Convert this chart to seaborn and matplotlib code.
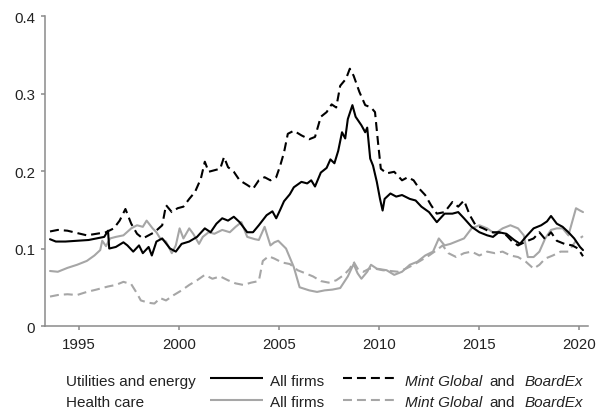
import matplotlib
matplotlib.use("Agg")
import matplotlib.pyplot as plt
from matplotlib.lines import Line2D
import seaborn as sns

# Utilities and energy, all firms
util_all_year = [1993.55, 1993.84, 1994.32, 1994.90, 1995.48, 1995.87, 1996.26, 1996.45, 1996.51, 1996.84,
                 1997.22, 1997.42, 1997.71, 1998.00, 1998.19, 1998.48, 1998.64, 1998.87, 1999.16, 1999.55,
                 1999.84, 2000.13, 2000.51, 2000.90, 2001.29, 2001.58, 2001.87, 2002.16, 2002.45, 2002.74,
                 2003.03, 2003.41, 2003.70, 2003.99, 2004.38, 2004.67, 2004.86, 2005.06, 2005.25, 2005.54,
                 2005.74, 2006.12, 2006.41, 2006.61, 2006.80, 2007.09, 2007.38, 2007.57, 2007.77, 2007.96,
                 2008.15, 2008.31, 2008.44, 2008.67, 2008.83, 2009.12, 2009.31, 2009.41, 2009.56, 2009.70,
                 2009.89, 2010.05, 2010.18, 2010.28, 2010.57, 2010.86, 2011.15, 2011.54, 2011.83, 2012.12,
                 2012.50, 2012.89, 2013.28, 2013.67, 2013.96, 2014.25, 2014.63, 2015.02, 2015.41, 2015.70,
                 2015.99, 2016.37, 2016.76, 2017.05, 2017.34, 2017.73, 2018.11, 2018.40, 2018.60, 2018.89,
                 2019.18, 2019.47, 2019.76, 2020.05, 2020.20]
util_all_val = [0.112, 0.109, 0.109, 0.110, 0.111, 0.113, 0.115, 0.123, 0.100, 0.102,
                0.108, 0.104, 0.096, 0.104, 0.094, 0.102, 0.091, 0.109, 0.113, 0.100,
                0.096, 0.106, 0.109, 0.115, 0.126, 0.121, 0.132, 0.139, 0.136, 0.141,
                0.134, 0.121, 0.121, 0.130, 0.143, 0.148, 0.139, 0.150, 0.161, 0.170,
                0.179, 0.186, 0.184, 0.188, 0.180, 0.198, 0.204, 0.215, 0.210, 0.226,
                0.250, 0.242, 0.267, 0.285, 0.270, 0.259, 0.250, 0.256, 0.216, 0.207,
                0.186, 0.164, 0.149, 0.164, 0.171, 0.167, 0.169, 0.164, 0.162, 0.154,
                0.147, 0.134, 0.145, 0.145, 0.147, 0.139, 0.128, 0.121, 0.117, 0.115,
                0.121, 0.119, 0.111, 0.106, 0.115, 0.126, 0.130, 0.135, 0.142, 0.132,
                0.128, 0.121, 0.113, 0.102, 0.098]

# Utilities and energy, Mint Global and BoardEx
util_mint_year = [1993.55, 1993.94, 1994.42, 1994.90, 1995.39, 1995.87, 1996.35, 1996.74, 1997.03, 1997.32,
                  1997.61, 1997.90, 1998.19, 1998.48, 1998.77, 1999.16, 1999.35, 1999.64, 1999.93, 2000.22,
                  2000.51, 2000.80, 2001.09, 2001.29, 2001.48, 2001.77, 2002.06, 2002.25, 2002.45, 2002.74,
                  2003.03, 2003.41, 2003.70, 2003.99, 2004.28, 2004.57, 2004.86, 2005.06, 2005.25, 2005.44,
                  2005.74, 2006.12, 2006.51, 2006.80, 2007.09, 2007.38, 2007.63, 2007.86, 2008.06, 2008.35,
                  2008.54, 2008.73, 2009.02, 2009.31, 2009.60, 2009.80, 2009.95, 2010.09, 2010.38, 2010.76,
                  2011.15, 2011.44, 2011.73, 2012.02, 2012.31, 2012.60, 2012.89, 2013.28, 2013.67, 2013.96,
                  2014.25, 2014.54, 2014.83, 2015.21, 2015.60, 2015.99, 2016.37, 2016.66, 2016.95, 2017.34,
                  2017.73, 2018.02, 2018.31, 2018.60, 2018.89, 2019.27, 2019.66, 2019.95, 2020.20]
util_mint_val = [0.122, 0.124, 0.123, 0.120, 0.117, 0.119, 0.121, 0.126, 0.136, 0.151,
                 0.132, 0.119, 0.113, 0.117, 0.121, 0.130, 0.156, 0.147, 0.152, 0.154,
                 0.164, 0.173, 0.190, 0.212, 0.199, 0.201, 0.203, 0.218, 0.205, 0.199,
                 0.188, 0.182, 0.177, 0.188, 0.192, 0.188, 0.192, 0.207, 0.224, 0.248,
                 0.252, 0.246, 0.241, 0.244, 0.270, 0.276, 0.286, 0.282, 0.310, 0.319,
                 0.332, 0.323, 0.302, 0.285, 0.282, 0.276, 0.237, 0.203, 0.197, 0.199,
                 0.188, 0.192, 0.188, 0.177, 0.169, 0.156, 0.145, 0.147, 0.160, 0.154,
                 0.162, 0.143, 0.130, 0.126, 0.121, 0.121, 0.117, 0.109, 0.104, 0.109,
                 0.113, 0.121, 0.112, 0.121, 0.110, 0.106, 0.104, 0.100, 0.090]

# Health care, all firms
health_all_year = [1993.55, 1993.94, 1994.42, 1994.90, 1995.39, 1995.77, 1996.06, 1996.16, 1996.35, 1996.55,
                   1996.84, 1997.22, 1997.61, 1997.90, 1998.19, 1998.38, 1998.68, 1998.87, 1999.06, 1999.35,
                   1999.64, 1999.84, 2000.03, 2000.22, 2000.51, 2000.71, 2001.00, 2001.19, 2001.48, 2001.77,
                   2002.16, 2002.54, 2002.83, 2003.12, 2003.41, 2003.80, 2003.99, 2004.28, 2004.57, 2004.77,
                   2004.96, 2005.35, 2005.74, 2006.03, 2006.51, 2006.90, 2007.28, 2007.67, 2008.06, 2008.44,
                   2008.73, 2008.93, 2009.12, 2009.41, 2009.60, 2009.89, 2010.38, 2010.76, 2011.15, 2011.54,
                   2011.92, 2012.31, 2012.70, 2012.99, 2013.28, 2013.57, 2013.86, 2014.25, 2014.63, 2015.02,
                   2015.41, 2015.79, 2016.18, 2016.57, 2016.95, 2017.24, 2017.44, 2017.73, 2018.02, 2018.31,
                   2018.60, 2018.89, 2019.18, 2019.47, 2019.85, 2020.05, 2020.20]
health_all_val = [0.071, 0.070, 0.075, 0.079, 0.084, 0.091, 0.098, 0.110, 0.103, 0.113,
                  0.115, 0.117, 0.126, 0.130, 0.128, 0.136, 0.126, 0.121, 0.113, 0.109,
                  0.094, 0.104, 0.126, 0.113, 0.126, 0.119, 0.106, 0.115, 0.121, 0.119,
                  0.124, 0.121, 0.128, 0.134, 0.115, 0.112, 0.111, 0.128, 0.104, 0.108,
                  0.110, 0.100, 0.076, 0.050, 0.046, 0.044, 0.046, 0.047, 0.049, 0.064,
                  0.080, 0.068, 0.061, 0.070, 0.079, 0.074, 0.072, 0.066, 0.070, 0.079,
                  0.083, 0.091, 0.096, 0.113, 0.104, 0.106, 0.109, 0.113, 0.126, 0.130,
                  0.126, 0.119, 0.126, 0.130, 0.126, 0.117, 0.089, 0.089, 0.096, 0.113,
                  0.124, 0.126, 0.126, 0.117, 0.152, 0.149, 0.147]

# Health care, Mint Global and BoardEx
health_mint_year = [1993.55, 1993.94, 1994.42, 1994.90, 1995.39, 1995.87, 1996.45, 1996.84, 1997.22, 1997.61,
                    1997.90, 1998.09, 1998.48, 1998.77, 1999.06, 1999.35, 1999.74, 2000.13, 2000.51, 2000.90,
                    2001.29, 2001.67, 2002.06, 2002.45, 2002.83, 2003.22, 2003.61, 2003.99, 2004.19, 2004.48,
                    2004.77, 2005.15, 2005.54, 2005.93, 2006.32, 2006.70, 2007.09, 2007.48, 2007.86, 2008.25,
                    2008.54, 2008.73, 2008.93, 2009.22, 2009.51, 2009.80, 2010.18, 2010.57, 2010.96, 2011.34,
                    2011.73, 2012.12, 2012.50, 2012.89, 2013.18, 2013.47, 2013.86, 2014.25, 2014.63, 2015.02,
                    2015.41, 2015.79, 2016.18, 2016.57, 2016.95, 2017.34, 2017.73, 2018.02, 2018.31, 2018.69,
                    2019.08, 2019.47, 2019.85, 2020.20]
health_mint_val = [0.038, 0.040, 0.041, 0.040, 0.044, 0.047, 0.051, 0.053, 0.057, 0.054,
                   0.042, 0.033, 0.030, 0.029, 0.036, 0.033, 0.040, 0.046, 0.053, 0.059,
                   0.066, 0.061, 0.064, 0.059, 0.055, 0.053, 0.056, 0.058, 0.084, 0.090,
                   0.087, 0.082, 0.080, 0.072, 0.068, 0.064, 0.058, 0.056, 0.059, 0.066,
                   0.074, 0.083, 0.074, 0.070, 0.074, 0.074, 0.072, 0.071, 0.070, 0.074,
                   0.079, 0.085, 0.091, 0.098, 0.104, 0.094, 0.089, 0.094, 0.096, 0.091,
                   0.096, 0.094, 0.096, 0.091, 0.089, 0.083, 0.074, 0.079, 0.087, 0.091,
                   0.096, 0.096, 0.110, 0.116]

x_ticks = [1995, 2000, 2005, 2010, 2015, 2020]
y_ticks = [0, 0.1, 0.2, 0.3, 0.4]
y_tick_labels = ["0", "0.1", "0.2", "0.3", "0.4"]

BLACK = "#000000"
GREY = "#a6a6a6"
SPINE = "#8a8a8a"
TEXT = "#222222"
LW = 1.5
DASH = (0, (4.3, 2.4))

sns.set_style("ticks")
plt.rcParams["font.family"] = ["Liberation Sans", "DejaVu Sans"]
plt.rcParams["font.size"] = 10.8

fig = plt.figure(figsize=(6.06, 4.14), dpi=100)
ax = fig.add_axes([0.0743, 0.2101, 0.8960, 0.7488])

series = [
    (health_mint_year, health_mint_val, GREY, DASH),
    (health_all_year, health_all_val, GREY, "-"),
    (util_mint_year, util_mint_val, BLACK, DASH),
    (util_all_year, util_all_val, BLACK, "-"),
]
for xs, ys, col, ls in series:
    sns.lineplot(x=xs, y=ys, ax=ax, color=col, linestyle=ls, linewidth=LW, legend=False)

ax.set_xlim(1993.3, 2020.45)
ax.set_ylim(0, 0.4)
ax.set_xticks(x_ticks)
ax.set_xticklabels([str(t) for t in x_ticks])
ax.set_yticks(y_ticks)
ax.set_yticklabels(y_tick_labels)

for side in ("top", "right"):
    ax.spines[side].set_visible(False)
for side in ("left", "bottom"):
    ax.spines[side].set_color(SPINE)
    ax.spines[side].set_linewidth(1.1)
ax.tick_params(axis="both", colors=SPINE, labelcolor=TEXT, width=1.1, length=3.2,
               labelsize=10.8, direction="out")
ax.tick_params(axis="x", pad=5)
ax.tick_params(axis="y", pad=4)

# Two-row key underneath the axes
rows = [
    ("Utilities and energy", BLACK, 0.0688, 0.0838),
    ("Health care", GREY, 0.0169, 0.0322),
]
for label, col, base_y, line_y in rows:
    fig.text(0.1096, base_y, label, color=TEXT, fontsize=11, va="baseline", ha="left")
    fig.add_artist(Line2D([0.3465, 0.4332], [line_y, line_y], transform=fig.transFigure,
                          color=col, linewidth=LW, solid_capstyle="butt"))
    fig.text(0.4455, base_y, "All firms", color=TEXT, fontsize=11, va="baseline", ha="left")
    fig.add_artist(Line2D([0.566, 0.650], [line_y, line_y], transform=fig.transFigure,
                          color=col, linewidth=LW, linestyle=DASH, dash_capstyle="butt"))
    fig.text(0.668, base_y, "Mint Global", color=TEXT, fontsize=11, va="baseline", ha="left",
             style="italic")
    fig.text(0.807, base_y, "and", color=TEXT, fontsize=11, va="baseline", ha="left")
    fig.text(0.865, base_y, "BoardEx", color=TEXT, fontsize=11, va="baseline", ha="left",
             style="italic")

fig.savefig("out.png", dpi=100, facecolor="white")
